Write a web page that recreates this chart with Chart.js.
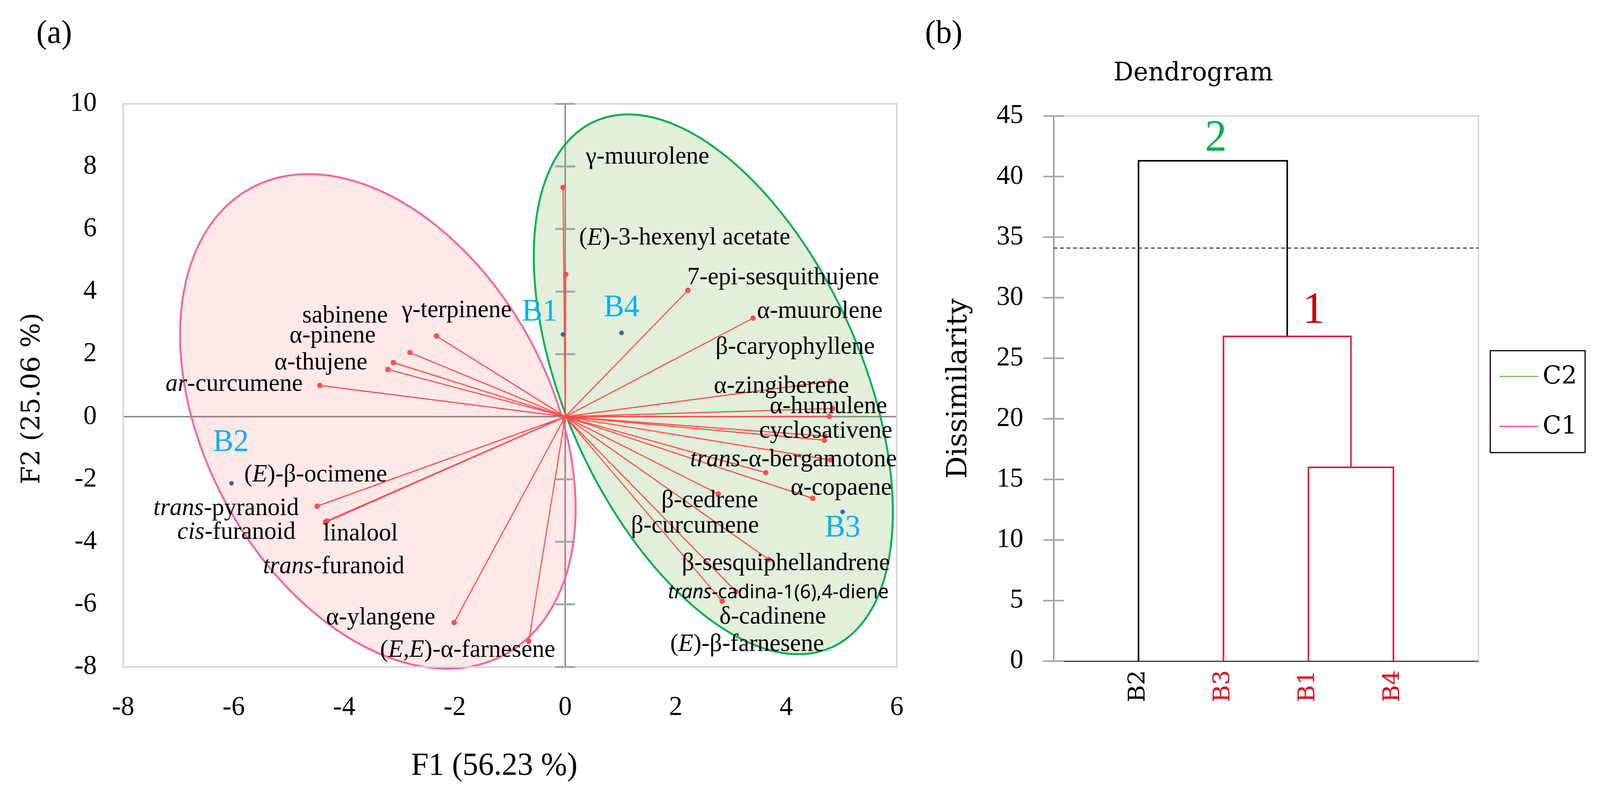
<!DOCTYPE html>
<html><head><meta charset="utf-8">
<script src="https://cdn.jsdelivr.net/npm/chart.js@4.4.1/dist/chart.umd.min.js"></script>
<style>
html,body{margin:0;padding:0;background:#fff;overflow:hidden;}
#wrap{position:relative;width:4184px;height:2041px;overflow:hidden;background:#fff;transform-origin:0 0;}
canvas{position:absolute;top:0;}
#pca{left:0;}
#dend{left:2440px;}
.panel{position:absolute;font-family:"Liberation Serif";font-size:84px;line-height:1;color:#000;}
</style></head>
<body><div id="wrap">
<canvas id="pca" width="2440" height="2041"></canvas>
<canvas id="dend" width="1744" height="2041"></canvas>
<div class="panel" style="left:95px;top:40px">(a)</div>
<div class="panel" style="left:2419px;top:40px">(b)</div>
</div>
<script>
// ---------------- PCA biplot data (F1 / F2) ----------------
const varNames = ['sabinene','γ-terpinene','α-pinene','α-thujene','<i>ar</i>-curcumene','(<i>E</i>)-β-ocimene',
  '<i>trans</i>-pyranoid','<i>cis</i>-furanoid','linalool','<i>trans</i>-furanoid','α-ylangene','(<i>E,E</i>)-α-farnesene',
  'γ-muurolene','(<i>E</i>)-3-hexenyl acetate','7-epi-sesquithujene','α-muurolene','β-caryophyllene','α-zingiberene',
  'α-humulene','cyclosativene','<i>trans</i>-α-bergamotone','α-copaene','β-cedrene','β-curcumene',
  'β-sesquiphellandrene','<i>trans</i>-cadina-1(6),4-diene','δ-cadinene','(<i>E</i>)-β-farnesene'];
const varF1 = [-2.81,-2.33,-3.11,-3.21,-4.44,-4.49,-4.31,-4.33,-4.32,-4.34,-2.01,-0.66,
  -0.04,0.01,2.22,3.40,4.78,4.80,4.84,4.69,4.80,4.48,2.77,3.63,3.68,3.09,2.84,4.70];
const varF2 = [2.05,2.58,1.73,1.51,1.00,-2.86,-3.33,-3.36,-3.35,-3.38,-6.58,-7.18,
  7.33,4.55,4.04,3.15,0.01,1.13,0.26,-0.75,-1.38,-2.61,-2.47,-1.79,-4.56,-5.59,-5.90,-0.62];
// label anchors (data units) and which side of the text is anchored
const labelF1 = [-3.21,-2.96,-3.43,-3.58,-4.75,-5.81,-4.82,-4.88,-4.38,-2.91,-2.35,-0.18,
  0.37,0.25,2.21,3.47,2.72,2.69,3.70,3.51,2.26,4.08,1.74,1.19,2.11,1.86,2.79,1.90];
const labelF2 = [3.22,3.40,2.58,1.72,1.03,-1.86,-2.93,-3.70,-3.75,-4.79,-6.43,-7.46,
  8.30,5.71,4.44,3.37,2.22,0.97,0.32,-0.46,-1.38,-2.28,-2.69,-3.49,-4.70,-5.63,-6.41,-7.28];
const labelSide = ['R','L','R','R','R','L','R','R','L','R','R','R',
  'L','L','L','L','L','L','L','L','L','L','L','L','L','L','L','L'];

const obsNames = ['B1','B2','B3','B4'];
const obsF1 = [-0.04,-6.04,5.02,1.02];
const obsF2 = [2.63,-2.13,-3.04,2.68];
const obsLabelF1 = [-0.46,-6.05,5.02,1.02];
const obsLabelF2 = [3.33,-0.84,-3.57,3.47];

// confidence ellipses: centre and two conjugate semi-axis vectors (data units)
const ellipseCentre = [[-3.39,-0.15],[2.68,1.035]];
const ellipseAxisU  = [[2.353,-7.40],[2.170,-8.385]];
const ellipseAxisV  = [[2.697,2.78],[2.418,2.031]];

const xTicksPCA = {min:-8, max:6, step:2};
const yTicksPCA = {min:-8, max:10, step:2};

// ---------------- Dendrogram data ----------------
const leafNames = ['B2','B3','B1','B4'];
const leafClass = ['C2','C1','C1','C1'];
// merges: children are leaf names or merge indices
const mergeLeft   = ['B1','B3','B2'];
const mergeRight  = ['B4', 0, 1];
const mergeHeight = [16.0, 26.8, 41.3];
const mergeClass  = ['C1','C1','none'];
const truncationLevel = 34.1;
const clusterNumbers = ['2','1'];
const clusterNumX = [1.91, 3.06];
const clusterNumY = [43.1, 28.9];
const legendClasses = ['C2','C1'];

// ---------------- styles ----------------
const SERIF = 'Liberation Serif';
const WIDE = 'DejaVu Serif';
const RED = '#FF4D4D';
const C1COL = '#E0103F';
const legendColors = ['#70BF50','#E8467A'];

// fit the 4184 x 2041 figure into the actual viewport
(function fit(){
  const w = window.innerWidth, h = window.innerHeight;
  const sx = w/4184, sy = h/2041;
  if (sx > 0 && sy > 0 && (Math.abs(sx-1) > 0.001 || Math.abs(sy-1) > 0.001))
    document.getElementById('wrap').style.transform = 'scale(' + sx + ',' + sy + ')';
})();

function drawRich(ctx, markup, x, y, align, family, size, color){
  const parts = markup.split(/(<i>.*?<\/i>)/).filter(s=>s.length).map(s =>
    s.startsWith('<i>') ? {t:s.slice(3,-4), it:true} : {t:s, it:false});
  let total = 0;
  parts.forEach(p=>{ ctx.font = (p.it?'italic ':'') + size + 'px "' + family + '"'; p.w = ctx.measureText(p.t).width; total += p.w; });
  let cx = align==='L' ? x : (align==='R' ? x - total : x - total/2);
  ctx.textBaseline = 'middle'; ctx.textAlign = 'left'; ctx.fillStyle = color;
  parts.forEach(p=>{ ctx.font = (p.it?'italic ':'') + size + 'px "' + family + '"'; ctx.fillText(p.t, cx, y); cx += p.w; });
}

const pcaDecor = {
  id:'pcaDecor',
  beforeDatasetsDraw(chart){
    const {ctx, chartArea:a, scales:{x, y}} = chart;
    ctx.save();
    const fills = ['rgba(255,80,80,0.13)','rgba(110,175,70,0.2)'];
    const strokes = ['#F2679C','#00B050'];
    for (let e=0; e<ellipseCentre.length; e++){
      const c = ellipseCentre[e], u = ellipseAxisU[e], v = ellipseAxisV[e];
      ctx.beginPath();
      for (let k=0; k<=360; k++){
        const t = k*Math.PI/180;
        const px = x.getPixelForValue(c[0] + u[0]*Math.cos(t) + v[0]*Math.sin(t));
        const py = y.getPixelForValue(c[1] + u[1]*Math.cos(t) + v[1]*Math.sin(t));
        if (k===0) ctx.moveTo(px,py); else ctx.lineTo(px,py);
      }
      ctx.closePath();
      ctx.fillStyle = fills[e]; ctx.fill();
      ctx.lineWidth = 5; ctx.strokeStyle = strokes[e]; ctx.stroke();
    }
    // plot frame
    ctx.strokeStyle = '#D6D6D6'; ctx.lineWidth = 4;
    ctx.strokeRect(a.left, a.top, a.width, a.height);
    // tick marks crossing the vertical (F1 = 0) axis
    const x0 = x.getPixelForValue(0);
    ctx.strokeStyle = '#A6A6A6'; ctx.lineWidth = 5;
    y.ticks.forEach(t=>{
      const py = y.getPixelForValue(t.value);
      ctx.beginPath(); ctx.moveTo(x0-26, py); ctx.lineTo(x0+26, py); ctx.stroke();
    });
    ctx.restore();
  },
  afterDatasetsDraw(chart){
    const {ctx, scales:{x, y}} = chart;
    ctx.save();
    for (let i=0; i<varNames.length; i++){
      const px = x.getPixelForValue(labelF1[i]), py = y.getPixelForValue(labelF2[i]);
      if (varNames[i].indexOf('cadina') >= 0) drawRich(ctx, varNames[i], px, py, labelSide[i], 'Noto Sans', 50, '#000');
      else drawRich(ctx, varNames[i], px, py, labelSide[i], SERIF, 64, '#000');
    }
    for (let i=0; i<obsNames.length; i++){
      drawRich(ctx, obsNames[i], x.getPixelForValue(obsLabelF1[i]), y.getPixelForValue(obsLabelF2[i]), 'C', SERIF, 80, '#00B0F0');
    }
    ctx.restore();
  }
};

const vectorSets = varNames.map((n,i)=>({
  label: n.replace(/<\/?i>/g,''),
  type: 'scatter', showLine: true,
  data: [{x:0,y:0},{x:varF1[i], y:varF2[i]}],
  borderColor: RED, borderWidth: 3, backgroundColor: RED,
  pointRadius: [0,7], pointBorderWidth: 0, pointBackgroundColor: RED, order: 2
}));
const obsSet = {
  label:'Observations', type:'scatter',
  data: obsNames.map((n,i)=>({x:obsF1[i], y:obsF2[i]})),
  pointRadius: 6, pointBorderWidth: 0, pointBackgroundColor: '#2E6B9E', backgroundColor:'#2E6B9E', order: 1
};

const zeroGrid = c => (c.tick && c.tick.value === 0) ? '#8F8F8F' : 'rgba(0,0,0,0)';

new Chart(document.getElementById('pca'), {
  type: 'scatter',
  data: { datasets: [...vectorSets, obsSet] },
  options: {
    responsive:false, animation:false, devicePixelRatio:1,
    layout:{padding:{left:0, top:266, right:95, bottom:0}},
    plugins:{legend:{display:false}, tooltip:{enabled:false}},
    scales:{
      x:{type:'linear', min:xTicksPCA.min, max:xTicksPCA.max,
         ticks:{stepSize:xTicksPCA.step, padding:63, color:'#000', font:{family:SERIF, size:70}},
         grid:{color:zeroGrid, lineWidth:4, drawTicks:false}, border:{display:false},
         title:{display:true, text:'F1 (56.23 %)\u2002\u2002', color:'#000', font:{family:SERIF, size:82}, padding:{top:0, bottom:29}},
         afterFit: s => { s.height = 333; }},
      y:{type:'linear', min:yTicksPCA.min, max:yTicksPCA.max,
         ticks:{stepSize:yTicksPCA.step, padding:69, color:'#000', font:{family:SERIF, size:70}},
         grid:{color:zeroGrid, lineWidth:4, drawTicks:false}, border:{display:false},
         title:{display:true, text:'F2 (25.06 %)\u2002\u2002', color:'#000', font:{family:WIDE, size:67}, padding:{top:45, bottom:0}},
         afterFit: s => { s.width = 322; }}
    }
  },
  plugins:[pcaDecor]
});

// ---------------- Dendrogram ----------------
const nodeX = [], nodeY = [];
function childPos(c){
  if (typeof c === 'string') return [leafNames.indexOf(c)+1, 0];
  return [nodeX[c], nodeY[c]];
}
const linkSets = [];
for (let m=0; m<mergeHeight.length; m++){
  const [xl, yl] = childPos(mergeLeft[m]);
  const [xr, yr] = childPos(mergeRight[m]);
  nodeX[m] = (xl+xr)/2; nodeY[m] = mergeHeight[m];
  linkSets.push({
    label:'link '+(m+1), type:'scatter', showLine:true,
    data:[{x:xl,y:yl},{x:xl,y:mergeHeight[m]},{x:xr,y:mergeHeight[m]},{x:xr,y:yr}],
    borderColor: mergeClass[m]==='C1' ? C1COL : '#000', borderWidth:4, pointRadius:0, tension:0
  });
}
linkSets.push({
  label:'truncation', type:'scatter', showLine:true,
  data:[{x:0,y:truncationLevel},{x:leafNames.length+1,y:truncationLevel}],
  borderColor:'#444', borderWidth:3, borderDash:[10,7], pointRadius:0
});

const dendDecor = {
  id:'dendDecor',
  beforeDatasetsDraw(chart){
    const {ctx, chartArea:a, scales:{x, y}} = chart;
    ctx.save();
    ctx.strokeStyle = '#CFCFCF'; ctx.lineWidth = 3;
    ctx.beginPath(); ctx.moveTo(a.left, a.top); ctx.lineTo(a.right, a.top); ctx.lineTo(a.right, a.bottom); ctx.stroke();
    const x0 = a.left;
    ctx.strokeStyle = '#A6A6A6'; ctx.lineWidth = 4;
    y.ticks.forEach(t=>{
      const py = y.getPixelForValue(t.value);
      ctx.beginPath(); ctx.moveTo(x0-27, py); ctx.lineTo(x0+27, py); ctx.stroke();
    });
    ctx.restore();
  },
  afterDatasetsDraw(chart){
    const {ctx, scales:{x, y}} = chart;
    ctx.save();
    const cols = ['#00B050','#C00000'];
    ctx.textAlign='center'; ctx.textBaseline='middle';
    for (let i=0;i<clusterNumbers.length;i++){
      ctx.font = '115px "' + SERIF + '"'; ctx.fillStyle = cols[i];
      ctx.fillText(clusterNumbers[i], x.getPixelForValue(clusterNumX[i]), y.getPixelForValue(clusterNumY[i]));
    }
    ctx.restore();
  },
  afterDraw(chart){
    // class legend, boxed, to the right of the plot
    const {ctx, chartArea:a} = chart;
    ctx.save();
    const bx = a.right + 31, bw = 248, by = a.top + 601, bh = 261;
    ctx.strokeStyle = '#000'; ctx.lineWidth = 3;
    ctx.strokeRect(bx, by, bw, bh);
    ctx.font = '64px "' + WIDE + '"'; ctx.textBaseline = 'middle'; ctx.textAlign = 'left';
    for (let i=0;i<legendClasses.length;i++){
      const ly = by + 66 + i*128;
      ctx.strokeStyle = legendColors[i]; ctx.lineWidth = 3;
      ctx.beginPath(); ctx.moveTo(bx + 24, ly); ctx.lineTo(bx + 126, ly); ctx.stroke();
      ctx.fillStyle = '#000';
      ctx.fillText(legendClasses[i], bx + 137, ly + 2);
    }
    ctx.restore();
  }
};

new Chart(document.getElementById('dend'), {
  type:'scatter',
  data:{datasets: linkSets},
  options:{
    responsive:false, animation:false, devicePixelRatio:1,
    layout:{padding:{left:0, top:0, right:318, bottom:0}},
    plugins:{
      tooltip:{enabled:false},
      legend:{display:false},
      title:{display:true, text:'Dendrogram\u2002\u2002', color:'#000', font:{family:WIDE, size:65, weight:'normal'}, padding:{top:150, bottom:69}}
    },
    scales:{
      x:{type:'linear', min:0, max:leafNames.length+1,
         ticks:{stepSize:1, autoSkip:false, minRotation:90, maxRotation:90, padding:23,
                font:{family:WIDE, size:60},
                color: c => (leafClass[c.tick.value-1]==='C1') ? '#E0001B' : '#000',
                callback: v => leafNames[v-1] || ''},
         grid:{display:false, drawTicks:false}, border:{display:true, color:'#3A3A3A', width:3},
         afterFit: s => { s.height = 348; }},
      y:{type:'linear', min:0, max:45,
         ticks:{stepSize:5, padding:79, color:'#000', font:{family:SERIF, size:70}},
         grid:{display:false, drawTicks:false}, border:{display:true, color:'#858585', width:3},
         title:{display:true, text:'Dissimilarity', color:'#000', font:{family:WIDE, size:72}, padding:{top:25, bottom:0}},
         afterFit: s => { s.width = 315; }}
    }
  },
  plugins:[dendDecor]
});
</script>
</body></html>
